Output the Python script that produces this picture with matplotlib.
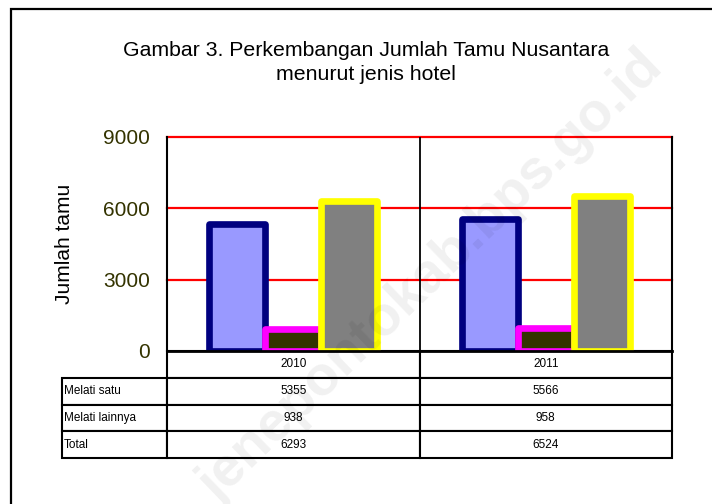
import numpy as np
import matplotlib
import matplotlib.pyplot as plt
from matplotlib.patches import Rectangle
from matplotlib.table import Table

matplotlib.use('Agg')
plt.rcParams['font.family'] = ['Liberation Sans', 'DejaVu Sans']

years = ['2010', '2011']
series = ['Melati satu', 'Melati lainnya', 'Total']
melati_satu = [5355, 5566]
melati_lainnya = [938, 958]
total = [6293, 6524]
yticks = [0, 3000, 6000, 9000]

face_colors = ['#9999ff', '#333300', '#808080']
edge_colors = ['#000080', '#ff00ff', '#ffff00']

fig = plt.figure(figsize=(7.12, 5.04), dpi=100)
ax = fig.add_axes([167 / 712, 1 - 351 / 504, 505 / 712, 214 / 504])

x = np.arange(len(years))
w = 0.222
for i, vals in enumerate([melati_satu, melati_lainnya, total]):
    ax.bar(x + (i - 1) * w, vals, w, color=face_colors[i], edgecolor=edge_colors[i],
           linewidth=4.8, joinstyle='round', zorder=3 + i)

ax.set_xlim(-0.5, 1.5)
ax.set_ylim(0, 9000)
ax.set_yticks(yticks)
ax.set_xticks([])
ax.tick_params(axis='y', length=0, pad=12, labelsize=15, labelcolor='#333300')
for y in yticks[1:]:
    ax.axhline(y, color='red', lw=1.6, zorder=1, clip_on=False)
ax.axvline(0.5, color='black', lw=1.3, zorder=2)
ax.spines['top'].set_visible(False)
for s in ['left', 'right', 'bottom']:
    ax.spines[s].set_linewidth(1.5)
ax.spines['bottom'].set_linewidth(2)
ax.spines['bottom'].set_zorder(10)

ax.set_ylabel('Jumlah tamu', fontsize=15)
ax.yaxis.set_label_coords((74 - 167) / 505, 0.5)

# data table under the bars
rows = [melati_satu, melati_lainnya, total]
tbl = Table(ax, bbox=[(62 - 167) / 505, -107 / 214, 610 / 505, 107 / 214])
lab_w, col_w, row_h = 105 / 610, 252.5 / 610, 0.25
for j, yr in enumerate(years):
    tbl.add_cell(0, j + 1, col_w, row_h, text=yr, loc='center')
for i, (name, vals) in enumerate(zip(series, rows)):
    c = tbl.add_cell(i + 1, 0, lab_w, row_h, text=name, loc='left')
    c.PAD = 0.02
    for j, v in enumerate(vals):
        tbl.add_cell(i + 1, j + 1, col_w, row_h, text=str(v), loc='center')
tbl.auto_set_font_size(False)
tbl.set_fontsize(8.5)
for cell in tbl.get_celld().values():
    cell.set_edgecolor('black')
    cell.set_linewidth(1.5)
ax.add_table(tbl)

fig.text(366 / 712, 1 - 62.5 / 504,
         'Gambar 3. Perkembangan Jumlah Tamu Nusantara\nmenurut jenis hotel',
         ha='center', va='center', fontsize=15.3, linespacing=1.3)

# watermark
fig.text(432 / 712, 1 - 276 / 504, 'jenepontokab.bps.go.id', ha='center', va='center',
         rotation=44, fontsize=40, fontweight='bold', color='black', alpha=0.06, zorder=20)

fig.patches.append(Rectangle((11 / 712, -0.1), 1.2, 1 - 9 / 504 + 0.1, transform=fig.transFigure,
                             fill=False, edgecolor='black', linewidth=1.6))

plt.savefig('out.png', dpi=100)
plt.close()
